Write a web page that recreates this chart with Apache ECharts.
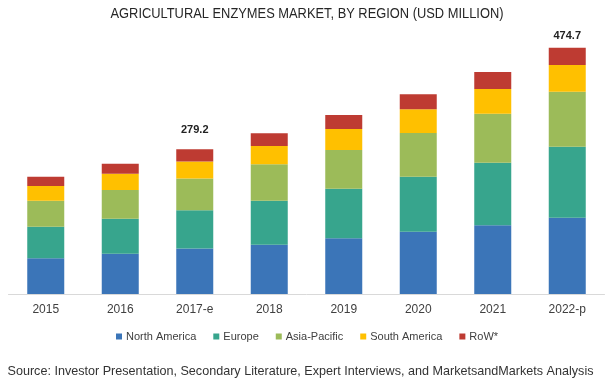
<!DOCTYPE html>
<html><head><meta charset="utf-8">
<script src="https://cdn.jsdelivr.net/npm/echarts@6/dist/echarts.min.js"></script>
<style>html,body{margin:0;padding:0;background:#fff}#c{width:608px;height:383px}</style>
</head><body><div id="c"></div>
<script>
const categories = ['2015','2016','2017-e','2018','2019','2020','2021','2022-p'];
const northAmerica = [68.8, 77.7, 87.5, 95.0, 107.3, 120.1, 132.4, 147.1];
const europe = [60.9, 67.4, 74.1, 84.8, 95.6, 106.0, 120.6, 136.8];
const asiaPacific = [50.1, 55.3, 61.1, 70.2, 74.6, 84.2, 94.4, 106.0];
const southAmerica = [28.3, 31.4, 32.8, 35.3, 40.5, 45.7, 47.6, 51.5];
const rowData = [17.9, 19.3, 23.7, 24.5, 27.0, 28.9, 32.8, 33.3];
const totalLabels = ['', '', '279.2', '', '', '', '', '474.7'];
const titleText = 'AGRICULTURAL ENZYMES MARKET, BY REGION (USD MILLION)';
const sourceText = 'Source: Investor Presentation, Secondary Literature, Expert Interviews, and MarketsandMarkets Analysis';

const names = ['North America','Europe','Asia-Pacific','South America','RoW*'];
const colors = ['#3B75B8','#37A58D','#9CBB59','#FFC000','#BE3B32'];
const datasets = [northAmerica, europe, asiaPacific, southAmerica, rowData];

function textWidth(t, font){const c=document.createElement('canvas').getContext('2d');c.font=font;return c.measureText(t).width;}
const titleFont = '14px "Liberation Sans"';
const srcFont = '13px "Liberation Sans"';
const titleScale = 393 / textWidth(titleText, titleFont);
const srcScale = 586 / textWidth(sourceText, srcFont);

const chart = echarts.init(document.getElementById('c'), null, {renderer:'canvas'});
const series = datasets.map((d,i)=>({
  name: names[i], type:'bar', stack:'total', barWidth:37,
  data: i===4 ? d.map((v,j)=>({value:v, label:{distance: j===2 ? 14 : 6}})) : d,
  itemStyle:{color:colors[i]},
  label: i===4 ? {show:true, position:'top', fontFamily:'Liberation Sans', fontWeight:'bold', fontSize:11, color:'#222',
    formatter:p=>totalLabels[p.dataIndex]} : {show:false}
}));
chart.setOption({
  animation:false,
  legend:{data:names, top:326, left:111, icon:'rect', itemWidth:6, itemHeight:6, itemGap:17,
    textStyle:{fontFamily:'Liberation Sans', fontSize:11, color:'#404040', padding:[0,0,0,-1]}},
  grid:{left:8.5, right:3.5, top:34.6, bottom:89},
  xAxis:{type:'category', data:categories,
    axisLine:{lineStyle:{color:'#D9D9D9'}}, axisTick:{show:false},
    axisLabel:{fontFamily:'Liberation Sans', fontSize:12, color:'#404040', margin:10}},
  yAxis:{type:'value', min:0, max:500, show:false, splitLine:{show:false}},
  graphic:[
    {type:'text', x:307, y:14, scaleX:titleScale, style:{text:titleText, x:0, y:0, align:'center', verticalAlign:'middle',
      font:titleFont, fill:'#262626'}},
    {type:'text', x:7.5, y:371, scaleX:srcScale, style:{text:sourceText, x:0, y:0, align:'left', verticalAlign:'middle',
      font:srcFont, fill:'#333333'}}
  ],
  series
});
</script></body></html>
